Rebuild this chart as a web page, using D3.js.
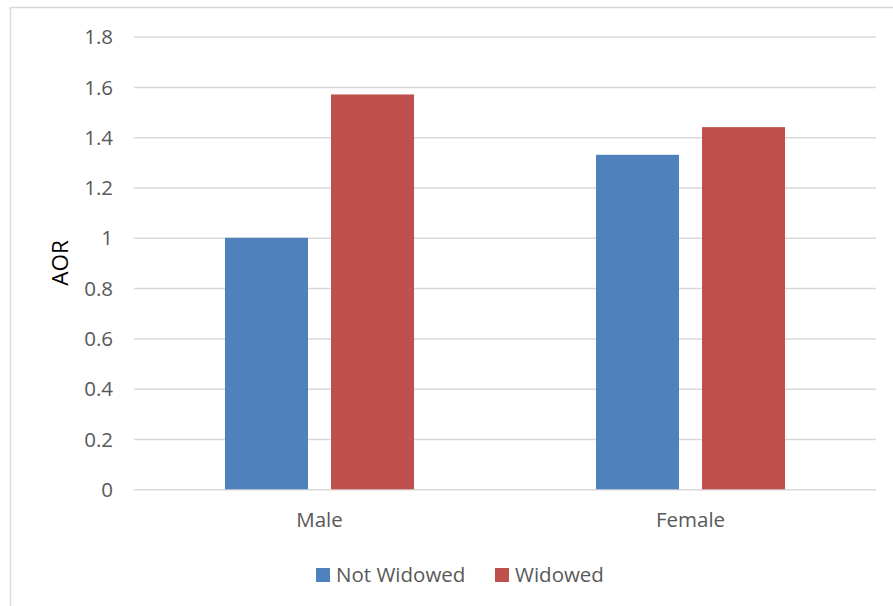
<!DOCTYPE html>
<html>
<head>
<meta charset="utf-8">
<script src="https://cdn.jsdelivr.net/npm/d3@7/dist/d3.min.js"></script>
<style>
  html, body { margin: 0; padding: 0; background: #fff; }
  svg { display: block; }
</style>
</head>
<body>
<svg id="chart" width="893" height="606"></svg>
<script>
// Adjusted odds ratios by sex and widowhood status
const categories = ["Male", "Female"];
const series = ["Not Widowed", "Widowed"];
const notWidowed = [1.0, 1.33];
const widowed = [1.57, 1.44];
const yTicks = [0, 0.2, 0.4, 0.6, 0.8, 1, 1.2, 1.4, 1.6, 1.8];
const colors = ["#4f81bd", "#c0504d"];

const FONT = "'Open Sans', 'Noto Sans', Lato, sans-serif";
const FS = 20.5;

const values = [notWidowed, widowed];
const rows = categories.map((c, i) => ({
  category: c,
  bars: series.map((s, j) => ({ series: s, value: values[j][i], color: colors[j] }))
}));

const svg = d3.select("#chart").attr("font-family", FONT);
const W = 893, H = 606;
const plot = { left: 134, right: 876, top: 36.6, bottom: 489.3 };

// chart area frame
svg.append("path")
  .attr("d", `M10.5,${H} L10.5,7.5 L${W},7.5`)
  .attr("fill", "none")
  .attr("stroke", "#d9d9d9")
  .attr("stroke-width", 1.5);

const y = d3.scaleLinear().domain([0, 1.8]).range([plot.bottom, plot.top]);
const x0 = d3.scaleBand().domain(categories).range([plot.left, plot.right]).padding(0);
const x1 = d3.scaleBand().domain(series).range([0, x0.bandwidth()])
  .paddingInner(0.217).paddingOuter(0.858);

// gridlines and tick labels
const yAxis = d3.axisLeft(y).tickValues(yTicks)
  .tickSize(-(plot.right - plot.left)).tickPadding(21)
  .tickFormat(d => d3.format("")(+d.toFixed(1)));

const gy = svg.append("g")
  .attr("transform", `translate(${plot.left},0)`)
  .call(yAxis)
  .attr("font-family", FONT)
  .attr("font-size", FS);
gy.select(".domain").remove();
gy.selectAll(".tick line").attr("stroke", "#d9d9d9").attr("stroke-width", 1.5);
gy.selectAll(".tick text")
  .attr("fill", "#595959")
  .attr("dy", "0.35em");

// bars
const groups = svg.append("g").selectAll("g")
  .data(rows).join("g")
  .attr("transform", d => `translate(${x0(d.category)},0)`);

groups.selectAll("rect")
  .data(d => d.bars).join("rect")
  .attr("x", d => x1(d.series))
  .attr("width", x1.bandwidth())
  .attr("y", d => y(d.value))
  .attr("height", d => y(0) - y(d.value))
  .attr("fill", d => d.color);

// category axis labels
const xAxis = d3.axisBottom(x0).tickSize(0).tickPadding(23);
const gx = svg.append("g")
  .attr("transform", `translate(0,${plot.bottom})`)
  .call(xAxis)
  .attr("font-family", FONT)
  .attr("font-size", FS);
gx.select(".domain").remove();
gx.selectAll(".tick text").attr("fill", "#595959");

// y axis title
svg.append("text")
  .attr("transform", `translate(68,${(plot.top + plot.bottom) / 2}) rotate(-90)`)
  .attr("text-anchor", "middle")
  .attr("fill", "#000")
  .attr("font-size", 22.5)
  .text("AOR");

// legend
const legendItems = [
  { label: series[0], color: colors[0], x: 316 },
  { label: series[1], color: colors[1], x: 495 }
];
const lg = svg.append("g").selectAll("g")
  .data(legendItems).join("g")
  .attr("transform", d => `translate(${d.x},568)`);
lg.append("rect")
  .attr("width", 14).attr("height", 14)
  .attr("fill", d => d.color);
lg.append("text")
  .attr("x", 20).attr("y", 14)
  .attr("fill", "#595959")
  .attr("font-size", FS)
  .text(d => d.label);
</script>
</body>
</html>
